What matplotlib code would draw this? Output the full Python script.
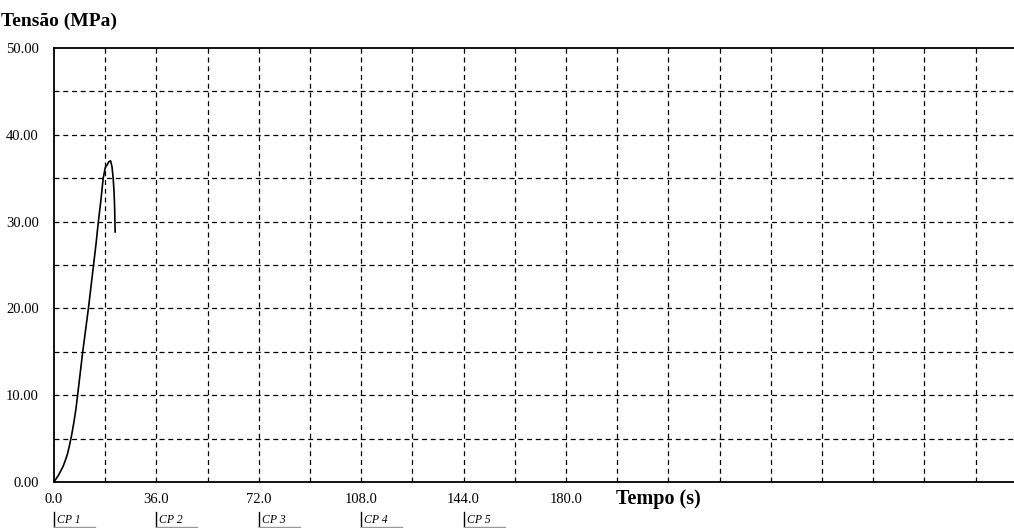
import matplotlib
matplotlib.use("Agg")
import matplotlib.pyplot as plt
import matplotlib.transforms as mtransforms
import numpy as np

# ensaio : tensao x tempo
tempo = [0.0, 0.8, 1.6, 2.4, 3.2, 4.0, 4.8, 5.5, 6.2, 7.0, 7.7, 8.3, 9.2, 10.1,
         11.1, 12.1, 13.0, 13.9, 14.8, 15.6, 16.5, 17.3, 18.0, 18.6, 19.3, 19.9,
         20.4, 20.8, 21.1, 21.3, 21.4, 21.5]
tensao = [0.0, 0.4, 0.8, 1.3, 1.8, 2.5, 3.3, 4.3, 5.4, 6.9, 8.4, 10.0, 12.5, 15.0,
          17.5, 20.0, 22.5, 25.0, 27.5, 30.0, 32.5, 35.0, 36.2, 36.5, 36.9, 37.0,
          36.3, 35.0, 33.5, 31.8, 30.2, 28.8]

xticks = [0.0, 36.0, 72.0, 108.0, 144.0, 180.0]
yticks = [0.0, 10.0, 20.0, 30.0, 40.0, 50.0]
cp_nomes = ["CP 1", "CP 2", "CP 3", "CP 4", "CP 5"]
cp_pos = [0.0, 36.0, 72.0, 108.0, 144.0]

plt.rcParams['font.family'] = ['Liberation Serif', 'DejaVu Serif']

fig = plt.figure(figsize=(10.14, 5.28), dpi=100)
W, H = 1014.0, 528.0
ax = fig.add_axes([54/W, 46/H, (W-54)/W, 434/H])

ax.set_xlim(0, (W-54)/51.2*18)
ax.set_ylim(0, 50)

# grade tracejada
for k in range(1, 19):
    ax.axvline(18*k, color='k', lw=0.9, ls=(0, (4, 3)), zorder=1)
for k in range(1, 10):
    ax.axhline(5*k, color='k', lw=0.9, ls=(0, (4, 3)), zorder=1)

ax.plot(tempo, tensao, color='k', lw=1.2, zorder=3)

ax.set_xticks(xticks)
ax.set_xticklabels(["%.1f" % v for v in xticks], fontsize=10.5)
ax.set_yticks(yticks)
ax.set_yticklabels(["%.2f" % v for v in yticks], fontsize=10.5)
ax.tick_params(axis='x', length=0, pad=8)
ax.tick_params(axis='y', length=0, pad=11)

for s in ['left', 'bottom', 'top']:
    ax.spines[s].set_linewidth(1.3)
ax.spines['right'].set_visible(False)

fig.text(1/W, 1-21/H, "Tensão (MPa)", fontsize=14, fontweight='bold', va='center')
fig.text(616/W, 1-499/H, "Tempo (s)", fontsize=14.5, fontweight='bold', va='center')

# marcadores dos corpos de prova
tr = mtransforms.blended_transform_factory(ax.transData, fig.transFigure)
for nome, p in zip(cp_nomes, cp_pos):
    ax.plot([p, p], [16/H, 0], color='k', lw=1, transform=tr, clip_on=False)
    ax.plot([p, p + 41/51.2*18], [1/H, 1/H], color='0.6', lw=1, transform=tr, clip_on=False)
    ax.text(p + 3/51.2*18, 8/H, nome, transform=tr, fontsize=8.5, style='italic',
            va='center', ha='left')

fig.savefig("out.png", dpi=100)
